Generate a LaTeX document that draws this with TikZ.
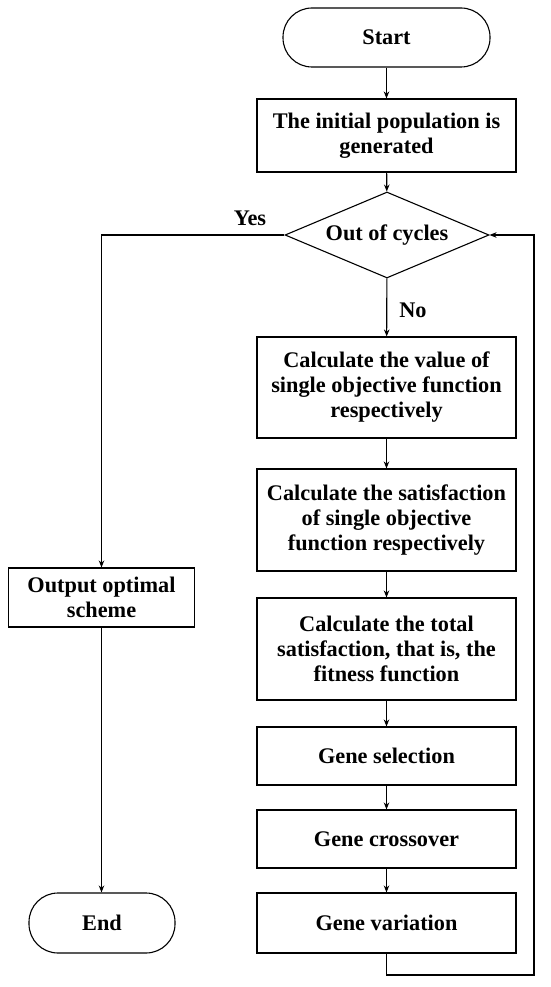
\documentclass[tikz,border=0pt]{standalone}
\usepackage{fontspec}
\setmainfont{Liberation Serif}
\usetikzlibrary{shapes.geometric,arrows.meta}
\begin{document}
\begin{tikzpicture}[x=1pt,y=-1pt,
  txt/.style={font=\bfseries\fontsize{22.3}{25}\selectfont},
  box/.style={txt, draw, line width=1.1pt, align=center, inner sep=0pt, minimum width=259pt},
  term/.style={txt, draw, line width=1.1pt, rounded corners=29pt, inner sep=0pt},
  dec/.style={txt, draw, line width=1.1pt, diamond, aspect=2.37, inner sep=0pt, minimum width=204pt, minimum height=86pt},
  arr/.style={-{Stealth[length=7pt,width=5.5pt]}, line width=1.1pt}]
\useasboundingbox (0,0) rectangle (550,987);
\node[term, minimum width=207pt, minimum height=59pt] (start) at (386.5,37.5) {Start};
\node[box, minimum height=73pt] (init) at (386.5,135.5) {The initial population is\\generated};
\node[dec] (dec) at (387,235) {Out of cycles};
\node[box, minimum height=101pt] (c1) at (386.5,387.5) {Calculate the value of\\single objective function\\respectively};
\node[box, minimum height=102pt] (c2) at (386.5,520) {Calculate the satisfaction\\of single objective\\function respectively};
\node[box, minimum height=102pt] (c3) at (386.5,649) {Calculate the total\\satisfaction, that is, the\\fitness function};
\node[box, minimum height=58pt] (gs) at (386.5,756) {Gene selection};
\node[box, minimum height=58pt] (gc) at (386.5,839) {Gene crossover};
\node[box, minimum height=60pt] (gv) at (386.5,923) {Gene variation};
\node[box, minimum width=186pt, minimum height=59pt] (out) at (101.5,597.5) {Output optimal\\scheme};
\node[term, minimum width=146pt, minimum height=60pt] (end) at (102,923) {End};
\node[txt] (yes) at (250,218) {Yes};
\node[txt] (no) at (413,310) {No};
\draw[arr] (start) -- (init);
\draw[arr] (init) -- (dec);
\draw[arr] (dec) -- (c1);
\draw[arr] (c1) -- (c2);
\draw[arr] (c2) -- (c3);
\draw[arr] (c3) -- (gs);
\draw[arr] (gs) -- (gc);
\draw[arr] (gc) -- (gv);
\coordinate (lp1) at (386.5,975);
\coordinate (lp2) at (534,975);
\coordinate (lp3) at (534,235);
\draw[arr] (gv.south) -- (lp1) -- (lp2) -- (lp3) -- (dec.east);
\coordinate (yc) at (101.5,235);
\draw[arr] (dec.west) -- (yc) -- (out.north);
\draw[arr] (out.south) -- (out.south |- end.north);
\end{tikzpicture}
\end{document}
